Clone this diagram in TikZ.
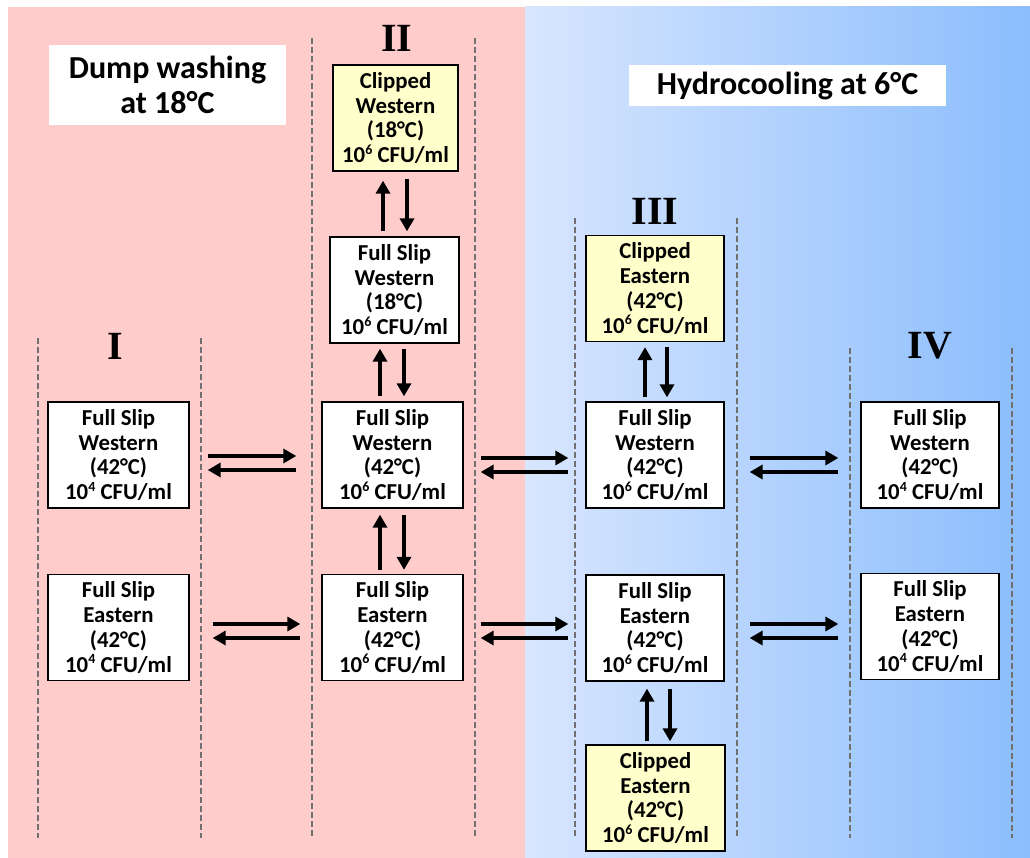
\documentclass[tikz,border=0pt]{standalone}
\usepackage{fontspec}
\setmainfont{Carlito}
\newfontfamily\romanfont{Liberation Serif}
\usetikzlibrary{arrows.meta}
\definecolor{pinkbg}{HTML}{FFCCCC}
\definecolor{blueL}{HTML}{D8E6FE}
\definecolor{blueR}{HTML}{8BBDFD}
\definecolor{yel}{HTML}{FFFFCC}
\definecolor{dashgray}{HTML}{707070}
\newcommand{\myexp}[1]{\smash{\raisebox{0.38em}{\fontsize{14}{14}\selectfont #1}}}
\tikzset{
  box/.style={draw=black, line width=1.3pt, fill=white, align=center, inner sep=0pt,
    font=\fontsize{22.8}{24.8}\selectfont\bfseries, minimum height=106pt},
  clip box/.style={box, fill=yel},
  title/.style={fill=white, align=center, inner sep=0pt, font=\fontsize{32}{35}\selectfont\bfseries},
  roman/.style={font=\fontsize{40}{40}\selectfont\romanfont\bfseries, inner sep=0pt},
  sep/.style={draw=dashgray, line width=1.2pt, dash pattern=on 6pt off 3pt},
  arr/.style={line width=4pt, -{Triangle[length=13pt,width=14pt]}},
}
\begin{document}
\begin{tikzpicture}[x=1pt,y=-1pt]
\useasboundingbox (0,0) rectangle (1030,858);
\fill[white] (0,0) rectangle (1030,858);
\fill[pinkbg] (8,7) rectangle (525,858);
\shade[left color=blueL, right color=blueR] (525,7) rectangle (1030,858);

% titles
\node[title, minimum width=237pt, minimum height=80pt] (t1) at (167.5,85) {Dump washing\\at 18°C};
\node[title, minimum width=317pt, minimum height=41pt] (t2) at (787.5,85.5) {Hydrocooling at 6°C};

% dashed separators
\draw[sep] (38,338) -- (38,838);
\draw[sep] (201,338) -- (201,838);
\draw[sep] (312,38) -- (312,838);
\draw[sep] (475,38) -- (475,838);
\draw[sep] (575,218) -- (575,838);
\draw[sep] (737,218) -- (737,838);
\draw[sep] (850,348) -- (850,838);
\draw[sep] (1012,348) -- (1012,838);

% roman numerals
\node[roman] (r1) at (115,346) {I};
\node[roman] (r2) at (397,38) {II};
\node[roman] (r3) at (655,211) {III};
\node[roman] (r4) at (930,346) {IV};

% column I
\node[box, minimum width=141pt] (aW) at (118.5,455) {Full Slip\\Western\\(42°C)\\10\myexp{4} CFU/ml};
\node[box, minimum width=141pt] (aE) at (118.5,627.5) {Full Slip\\Eastern\\(42°C)\\10\myexp{4} CFU/ml};
% column II
\node[clip box, minimum width=125pt] (bC) at (395.5,118) {Clipped\\Western\\(18°C)\\10\myexp{6} CFU/ml};
\node[box, minimum width=129pt] (bW18) at (394.5,290) {Full Slip\\Western\\(18°C)\\10\myexp{6} CFU/ml};
\node[box, minimum width=141pt] (bW) at (392.5,455) {Full Slip\\Western\\(42°C)\\10\myexp{6} CFU/ml};
\node[box, minimum width=141pt] (bE) at (392.5,627.5) {Full Slip\\Eastern\\(42°C)\\10\myexp{6} CFU/ml};
% column III
\node[clip box, minimum width=138pt] (cC1) at (655,288.5) {Clipped\\Eastern\\(42°C)\\10\myexp{6} CFU/ml};
\node[box, minimum width=138pt] (cW) at (655,455) {Full Slip\\Western\\(42°C)\\10\myexp{6} CFU/ml};
\node[box, minimum width=138pt] (cE) at (655,628) {Full Slip\\Eastern\\(42°C)\\10\myexp{6} CFU/ml};
\node[clip box, minimum width=139pt] (cC2) at (655.5,798) {Clipped\\Eastern\\(42°C)\\10\myexp{6} CFU/ml};
% column IV
\node[box, minimum width=138pt] (dW) at (930,455) {Full Slip\\Western\\(42°C)\\10\myexp{4} CFU/ml};
\node[box, minimum width=138pt] (dE) at (930,626.5) {Full Slip\\Eastern\\(42°C)\\10\myexp{4} CFU/ml};

% horizontal arrow pairs (yshift is upward on the page)
\draw[arr, shorten <=18pt, shorten >=25pt] ([yshift=-1pt]aW.east) -- ([yshift=-1pt]bW.west);
\draw[arr, shorten <=25pt, shorten >=18pt] ([yshift=-15pt]bW.west) -- ([yshift=-15pt]aW.east);
\draw[arr, shorten <=23pt, shorten >=21pt] ([yshift=3.5pt]aE.east) -- ([yshift=3.5pt]bE.west);
\draw[arr, shorten <=21pt, shorten >=23pt] ([yshift=-10.5pt]bE.west) -- ([yshift=-10.5pt]aE.east);

\draw[arr, shorten <=17pt, shorten >=17pt] ([yshift=-3pt]bW.east) -- ([yshift=-3pt]cW.west);
\draw[arr, shorten <=17pt, shorten >=17pt] ([yshift=-17pt]cW.west) -- ([yshift=-17pt]bW.east);
\draw[arr, shorten <=17pt, shorten >=17pt] ([yshift=3.5pt]bE.east) -- ([yshift=4pt]cE.west);
\draw[arr, shorten <=17pt, shorten >=17pt] ([yshift=-10pt]cE.west) -- ([yshift=-10.5pt]bE.east);

\draw[arr, shorten <=25pt, shorten >=22pt] ([yshift=-3pt]cW.east) -- ([yshift=-3pt]dW.west);
\draw[arr, shorten <=22pt, shorten >=25pt] ([yshift=-17pt]dW.west) -- ([yshift=-17pt]cW.east);
\draw[arr, shorten <=25pt, shorten >=22pt] ([yshift=4pt]cE.east) -- ([yshift=2.5pt]dE.west);
\draw[arr, shorten <=22pt, shorten >=25pt] ([yshift=-11.5pt]dE.west) -- ([yshift=-10pt]cE.east);

% vertical arrow pairs
\draw[arr, shorten <=5pt, shorten >=9pt] ([xshift=-11.5pt]bW18.north) -- ([xshift=-12.5pt]bC.south);
\draw[arr, shorten <=7pt, shorten >=5pt] ([xshift=11.5pt]bC.south) -- ([xshift=12.5pt]bW18.north);
\draw[arr, shorten <=5pt, shorten >=5pt] ([xshift=-12.5pt]bW.north) -- ([xshift=-14.5pt]bW18.south);
\draw[arr, shorten <=5pt, shorten >=5pt] ([xshift=9.5pt]bW18.south) -- ([xshift=11.5pt]bW.north);
\draw[arr, shorten <=4pt, shorten >=6pt] ([xshift=-12.5pt]bE.north) -- ([xshift=-12.5pt]bW.south);
\draw[arr, shorten <=6pt, shorten >=4pt] ([xshift=11.5pt]bW.south) -- ([xshift=11.5pt]bE.north);

\draw[arr, shorten <=4pt, shorten >=5pt] ([xshift=-10pt]cW.north) -- ([xshift=-10pt]cC1.south);
\draw[arr, shorten <=5pt, shorten >=4pt] ([xshift=12pt]cC1.south) -- ([xshift=12pt]cW.north);
\draw[arr, shorten <=3pt, shorten >=7pt] ([xshift=-8.5pt]cC2.north) -- ([xshift=-8pt]cE.south);
\draw[arr, shorten <=7pt, shorten >=3pt] ([xshift=15pt]cE.south) -- ([xshift=14.5pt]cC2.north);
\end{tikzpicture}
\end{document}
